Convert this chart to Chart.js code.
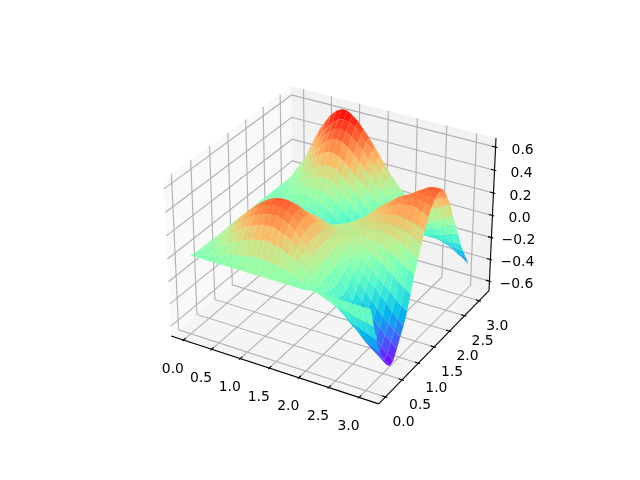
<!DOCTYPE html>
<html>
<head>
<meta charset="utf-8">
<script src="https://cdn.jsdelivr.net/npm/chart.js@4"></script>
<style>
body { margin: 0; background: #fff; }
canvas { display: block; }
</style>
</head>
<body>
<canvas id="surfaceChart" width="640" height="480"></canvas>
<script>
// surface values, one row per y value
const xValues = [.035, .133, .23, .328, .426, .524, .621, .719, .817, .914, 1.012, 1.11, 1.207, 1.305, 1.403, 1.501, 1.598, 1.696, 1.794, 1.891, 1.989, 2.087, 2.184, 2.282, 2.38, 2.478, 2.575, 2.673, 2.771, 2.868, 2.966, 3.064];
const yValues = [0, .1, .2, .3, .4, .5, .6, .7, .8, .9, 1, 1.1, 1.2, 1.3, 1.4, 1.5, 1.6, 1.7, 1.8, 1.9, 2, 2.1, 2.2, 2.3, 2.4, 2.5, 2.6, 2.7, 2.8, 2.9, 3, 3.1];
const zRows = [
    [.02,.02,.02,.02,.02,.02,.02,.02,.02,.02,.02,.02,.02,.02,.02,.02,.02,.02,.02,.02,.02,.03,.03,.03,.03,.03,.03,.03,.03,.03,.03,.03],
    [0,.01,.03,.04,.05,.07,.08,.10,.11,.12,.13,.14,.14,.14,.13,.12,.11,.09,.07,.05,.03,.01,-.02,-.04,-.06,-.07,-.09,-.10,-.12,-.13,-.14,-.15],
    [0,.03,.05,.08,.10,.14,.16,.19,.21,.23,.25,.26,.27,.27,.25,.24,.21,.18,.15,.11,.06,.02,-.03,-.07,-.11,-.15,-.18,-.22,-.24,-.26,-.28,-.30],
    [0,.04,.07,.11,.14,.19,.22,.26,.30,.32,.35,.36,.37,.37,.35,.33,.30,.25,.20,.15,.09,.02,-.04,-.10,-.15,-.21,-.26,-.30,-.35,-.38,-.41,-.44],
    [0,.04,.09,.13,.17,.22,.27,.31,.35,.39,.41,.43,.44,.44,.42,.40,.35,.30,.24,.18,.10,.03,-.05,-.12,-.18,-.25,-.31,-.37,-.42,-.46,-.50,-.53],
    [0,.05,.10,.14,.19,.25,.30,.35,.39,.43,.46,.48,.49,.49,.47,.44,.39,.34,.27,.20,.12,.03,-.06,-.13,-.21,-.28,-.35,-.41,-.47,-.52,-.56,-.60],
    [0,.05,.10,.15,.20,.26,.31,.36,.41,.45,.48,.50,.51,.51,.49,.46,.41,.35,.28,.21,.12,.03,-.06,-.14,-.22,-.30,-.37,-.44,-.50,-.55,-.60,-.64],
    [0,.05,.10,.15,.20,.25,.30,.35,.40,.44,.47,.49,.50,.50,.48,.45,.41,.35,.28,.22,.13,.05,-.04,-.12,-.20,-.28,-.35,-.42,-.48,-.53,-.58,-.62],
    [0,.05,.09,.14,.18,.23,.28,.32,.37,.41,.43,.45,.46,.46,.45,.42,.39,.34,.28,.22,.15,.08,0,-.07,-.15,-.22,-.28,-.34,-.40,-.45,-.50,-.55],
    [0,.04,.08,.12,.16,.21,.25,.29,.33,.36,.38,.40,.41,.41,.40,.38,.36,.32,.27,.22,.16,.10,.03,-.03,-.10,-.16,-.22,-.28,-.33,-.38,-.43,-.47],
    [0,.03,.07,.10,.14,.18,.21,.24,.28,.31,.33,.34,.35,.35,.35,.34,.32,.29,.26,.21,.16,.11,.06,.01,-.04,-.09,-.14,-.19,-.24,-.30,-.35,-.40],
    [0,.03,.06,.09,.12,.15,.18,.21,.24,.26,.28,.29,.30,.31,.30,.30,.29,.27,.25,.22,.18,.14,.09,.05,.01,-.03,-.08,-.12,-.17,-.22,-.26,-.30],
    [0,.02,.05,.07,.09,.12,.14,.16,.18,.20,.22,.23,.24,.25,.25,.25,.24,.23,.22,.20,.18,.16,.13,.11,.08,.05,.02,-.02,-.06,-.10,-.14,-.17],
    [0,.02,.03,.05,.06,.08,.09,.10,.12,.13,.14,.15,.16,.17,.18,.18,.19,.19,.19,.19,.19,.18,.18,.17,.16,.15,.12,.10,.07,.03,0,-.04],
    [0,.01,.02,.03,.03,.04,.05,.05,.06,.07,.08,.09,.10,.11,.12,.13,.14,.15,.16,.17,.19,.20,.21,.22,.22,.22,.21,.19,.17,.14,.11,.07],
    [0,.01,.01,.01,.02,.02,.02,.03,.03,.03,.04,.05,.06,.08,.09,.11,.13,.15,.17,.19,.21,.23,.24,.25,.26,.27,.27,.26,.25,.23,.20,.17],
    [0,0,0,.01,.01,.01,.01,0,0,-.01,-.01,0,.01,.03,.04,.06,.09,.12,.15,.18,.21,.24,.27,.29,.31,.32,.33,.33,.32,.31,.29,.27],
    [0,0,0,0,-.01,-.02,-.02,-.03,-.04,-.05,-.06,-.05,-.04,-.02,.01,.03,.06,.09,.13,.17,.20,.24,.28,.31,.35,.38,.40,.41,.42,.41,.39,.36],
    [0,0,-.01,-.01,-.02,-.03,-.05,-.06,-.08,-.09,-.10,-.10,-.09,-.07,-.05,-.02,.02,.06,.10,.14,.19,.24,.29,.33,.37,.41,.43,.44,.45,.45,.44,.42],
    [0,-.01,-.02,-.03,-.04,-.06,-.08,-.10,-.12,-.13,-.14,-.14,-.13,-.12,-.10,-.07,-.04,0,.05,.10,.14,.20,.26,.31,.36,.40,.43,.45,.47,.47,.47,.47],
    [0,-.01,-.01,-.02,-.03,-.05,-.06,-.08,-.10,-.11,-.13,-.14,-.14,-.14,-.13,-.10,-.07,-.03,.01,.06,.11,.17,.22,.27,.32,.37,.41,.44,.47,.49,.49,.49],
    [0,0,0,-.01,-.01,-.02,-.03,-.05,-.06,-.08,-.09,-.11,-.12,-.13,-.13,-.12,-.09,-.06,-.02,.02,.07,.12,.17,.23,.29,.34,.39,.43,.46,.49,.50,.50],
    [0,.01,.01,.01,.01,.01,0,-.01,-.03,-.05,-.07,-.11,-.14,-.16,-.16,-.15,-.13,-.10,-.07,-.03,.01,.05,.10,.15,.20,.24,.28,.32,.36,.40,.43,.46],
    [0,.01,.02,.03,.04,.05,.05,.05,.04,.02,-.01,-.05,-.09,-.13,-.16,-.16,-.15,-.13,-.11,-.08,-.05,-.01,.03,.08,.13,.17,.21,.26,.30,.33,.36,.38],
    [0,.02,.03,.05,.07,.09,.10,.11,.11,.10,.08,.04,0,-.05,-.09,-.12,-.13,-.14,-.14,-.13,-.10,-.07,-.04,0,.04,.08,.12,.17,.21,.24,.27,.29],
    [0,.02,.05,.07,.10,.13,.16,.18,.20,.20,.18,.13,.08,.03,-.03,-.07,-.11,-.13,-.14,-.15,-.14,-.12,-.10,-.07,-.04,-.01,.02,.05,.08,.11,.14,.17],
    [0,.03,.07,.11,.15,.19,.23,.26,.28,.28,.26,.22,.17,.12,.07,.02,-.03,-.07,-.10,-.12,-.14,-.14,-.13,-.12,-.10,-.08,-.06,-.03,0,.02,.05,.07],
    [0,.05,.09,.14,.20,.26,.31,.35,.37,.37,.35,.31,.27,.22,.17,.12,.07,.02,-.03,-.07,-.11,-.13,-.14,-.15,-.15,-.14,-.13,-.11,-.09,-.07,-.05,-.04],
    [0,.06,.12,.18,.25,.32,.38,.43,.46,.47,.46,.42,.38,.33,.27,.22,.17,.12,.07,.02,-.03,-.08,-.11,-.14,-.16,-.17,-.17,-.17,-.17,-.16,-.16,-.16],
    [0,.08,.15,.22,.30,.37,.44,.49,.53,.54,.53,.50,.45,.40,.34,.29,.23,.17,.12,.07,.01,-.05,-.09,-.13,-.16,-.18,-.20,-.21,-.22,-.23,-.24,-.25],
    [0,.09,.18,.27,.35,.43,.50,.55,.59,.60,.59,.56,.51,.45,.39,.32,.26,.19,.13,.08,.01,-.04,-.09,-.12,-.16,-.19,-.22,-.25,-.27,-.29,-.31,-.33],
    [0,.11,.22,.33,.43,.51,.58,.63,.66,.66,.63,.59,.53,.47,.40,.33,.26,.19,.13,.08,.02,-.03,-.08,-.12,-.16,-.20,-.24,-.28,-.32,-.35,-.38,-.42]
];
const xTicks = [0, .5, 1, 1.5, 2, 2.5, 3];
const yTicks = [0, .5, 1, 1.5, 2, 2.5, 3];
const zTicks = [-.6, -.4, -.2, 0, .2, .4, .6];

const xLim = [-.22, 3.32];
const yLim = [-.2, 3.34];
const zLim = [-.689, .678];

// same camera as a default 3d axes: elev 30, azim -60, dist 10, box 4:4:3
const box = [1.1905, 1.1905, .8929];
const camU = [.8660, .5, 0];
const camV = [-.25, .4330, .8660];
const camW = [.4330, -.75, .5];

function project(x, y, z) {
    const d = [
        (x - xLim[0]) / (xLim[1] - xLim[0]) * box[0] - box[0] / 2,
        (y - yLim[0]) / (yLim[1] - yLim[0]) * box[1] - box[1] / 2,
        (z - zLim[0]) / (zLim[1] - zLim[0]) * box[2] - box[2] / 2
    ];
    const dot = (a) => a[0] * d[0] + a[1] * d[1] + a[2] * d[2];
    const depth = 10 - dot(camW);
    return {
        x: 143.2 + (dot(camU) / depth + .095) / .185 * 369.6,
        y: 427.2 - (dot(camV) / depth + .095) / .185 * 369.6,
        depth: depth
    };
}

function rainbow(t) {
    const r = Math.min(1, Math.abs(2 * t - .5));
    const g = Math.sin(Math.PI * t);
    const b = Math.cos(Math.PI * t / 2);
    return 'rgb(' + Math.round(r * 255) + ',' + Math.round(g * 255) + ',' + Math.round(b * 255) + ')';
}

const layers = [];

function addPolygon(corners, color) {
    layers.push({
        data: corners.concat([corners[0]]).map(p => ({x: p.x, y: p.y})),
        showLine: true, fill: 'shape', backgroundColor: color,
        borderWidth: 0, pointRadius: 0, tension: 0
    });
}

function addLine(points, color, width) {
    layers.push({
        data: points.map(p => ({x: p.x, y: p.y})),
        showLine: true, fill: false, borderColor: color,
        borderWidth: width, pointRadius: 0, tension: 0
    });
}

// panes
const [x0, x1] = xLim, [y0, y1] = yLim, [z0, z1] = zLim;
addPolygon([project(x0, y0, z0), project(x0, y1, z0), project(x0, y1, z1), project(x0, y0, z1)], '#f9f9f9');
addPolygon([project(x0, y1, z0), project(x1, y1, z0), project(x1, y1, z1), project(x0, y1, z1)], '#f2f2f2');
addPolygon([project(x0, y0, z0), project(x1, y0, z0), project(x1, y1, z0), project(x0, y1, z0)], '#f5f5f5');

// grid
const gridColor = '#b0b0b0';
xTicks.forEach(t => addLine([project(t, y0, z0), project(t, y1, z0), project(t, y1, z1)], gridColor, 1.1));
yTicks.forEach(t => addLine([project(x1, t, z0), project(x0, t, z0), project(x0, t, z1)], gridColor, 1.1));
zTicks.forEach(t => addLine([project(x0, y0, t), project(x0, y1, t), project(x1, y1, t)], gridColor, 1.1));

// axis lines and ticks
addLine([project(x0, y0, z0), project(x1, y0, z0)], '#000', 1.1);
addLine([project(x1, y0, z0), project(x1, y1, z0)], '#000', 1.1);
addLine([project(x1, y1, z0), project(x1, y1, z1)], '#000', 1.1);
xTicks.forEach(t => addLine([project(t, y0 + .06, z0), project(t, y0 - .03, z0)], '#000', 1.1));
yTicks.forEach(t => addLine([project(x1 - .06, t, z0), project(x1 + .03, t, z0)], '#000', 1.1));
zTicks.forEach(t => addLine([project(x1 - .06, y1, t), project(x1 + .03, y1, t)], '#000', 1.1));

// surface facets, far ones first
const zFlat = zRows.flat();
const zMin = Math.min(...zFlat), zMax = Math.max(...zFlat);
const facets = [];
for (let j = 0; j < yValues.length - 1; j++) {
    for (let i = 0; i < xValues.length - 1; i++) {
        const c = [[i, j], [i + 1, j], [i + 1, j + 1], [i, j + 1]];
        const pts = c.map(([a, b]) => project(xValues[a], yValues[b], zRows[b][a]));
        const mean = c.reduce((s, [a, b]) => s + zRows[b][a], 0) / 4;
        facets.push({pts: pts, mean: mean, depth: pts.reduce((s, p) => s + p.depth, 0) / 4});
    }
}
facets.sort((a, b) => b.depth - a.depth);
facets.forEach(f => addPolygon(f.pts, rainbow((f.mean - zMin) / (zMax - zMin))));

// tick labels are plain text next to the projected tick
const labelPlugin = {
    id: 'tickLabels',
    afterDraw(chart) {
        const ctx = chart.ctx, sx = chart.scales.x, sy = chart.scales.y;
        ctx.save();
        ctx.font = '13.9px "DejaVu Sans"';
        ctx.fillStyle = '#000';
        ctx.textAlign = 'center';
        ctx.textBaseline = 'middle';
        const put = (text, p, dx, dy) => ctx.fillText(text, sx.getPixelForValue(p.x) + dx, sy.getPixelForValue(p.y) + dy);
        xTicks.forEach(t => put(t.toFixed(1), project(t, y0, z0), -10.5, 29));
        yTicks.forEach(t => put(t.toFixed(1), project(x1, t, z0), 18, 25.5));
        zTicks.forEach(t => put(t.toFixed(1).replace('-', '\u2212'), project(x1, y1, t), 27, 3));
        ctx.restore();
    }
};

const surfaceCtx = document.getElementById('surfaceChart').getContext('2d');
const surfaceChart = new Chart(surfaceCtx, {
    type: 'scatter',
    data: { datasets: layers.reverse() },
    options: {
        responsive: false,
        animation: false,
        layout: { padding: 0 },
        plugins: { legend: { display: false }, tooltip: { enabled: false } },
        scales: {
            x: { type: 'linear', min: 0, max: 640, display: false },
            y: { type: 'linear', min: 0, max: 480, reverse: true, display: false }
        }
    },
    plugins: [labelPlugin]
});
</script>
</body>
</html>
